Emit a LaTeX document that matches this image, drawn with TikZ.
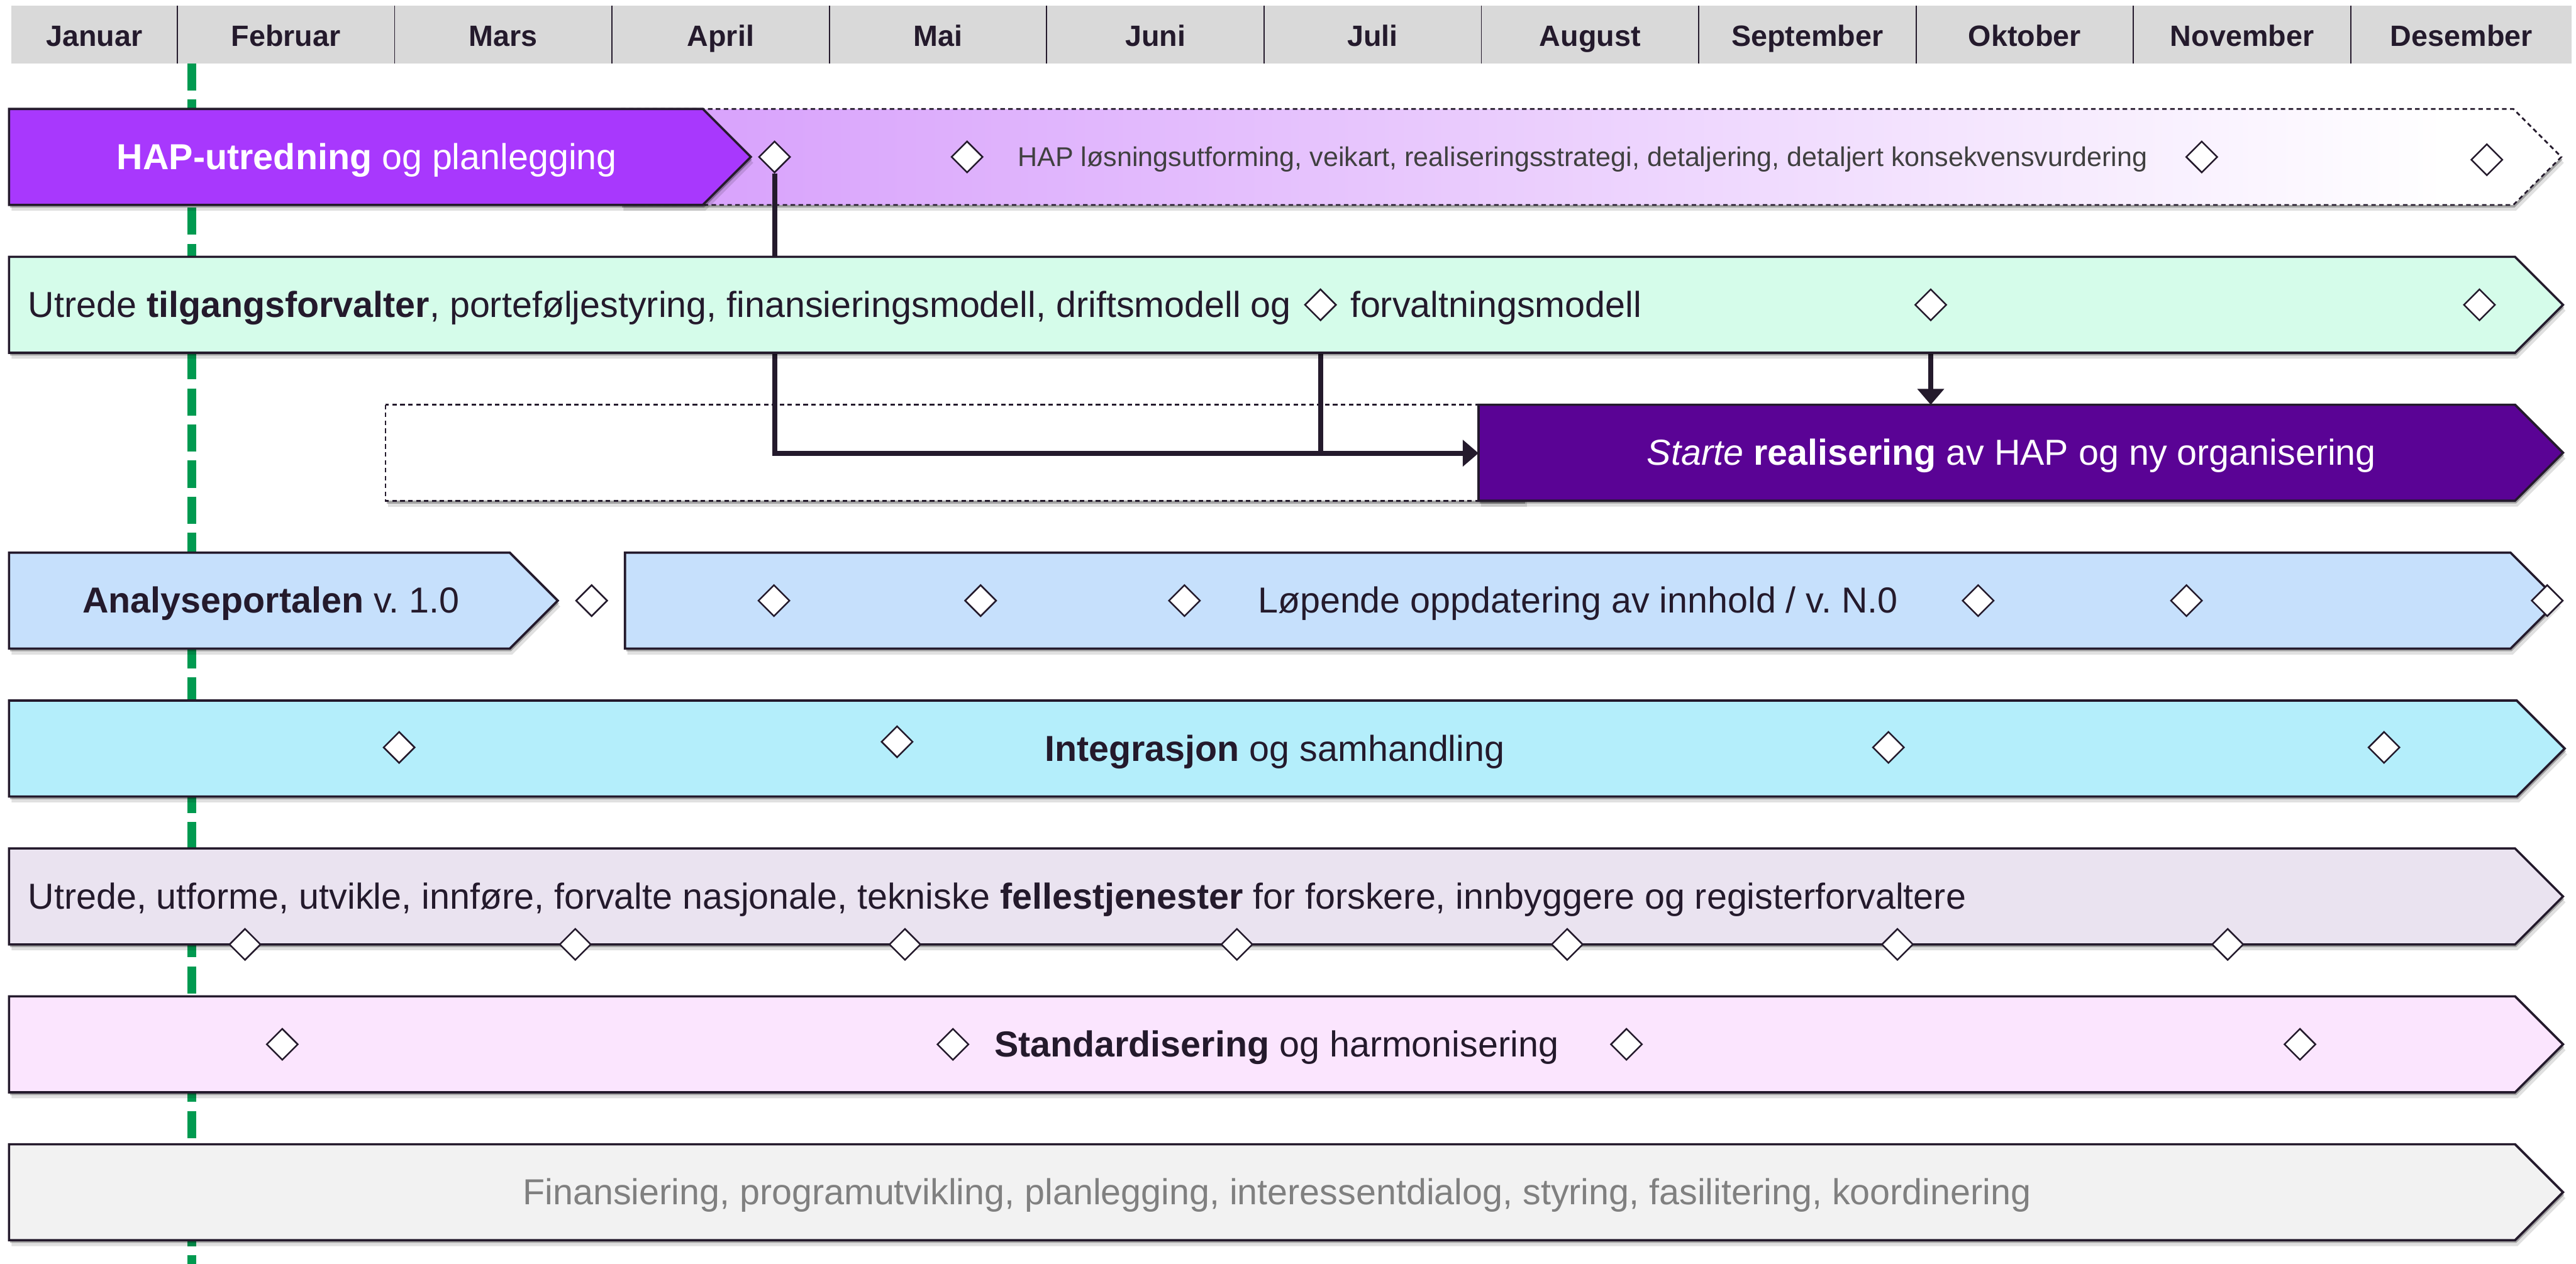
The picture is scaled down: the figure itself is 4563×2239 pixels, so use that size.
\documentclass[tikz,border=0pt]{standalone}
\usepackage{fontspec}
\setmainfont{Liberation Sans}
\usetikzlibrary{shapes.geometric,arrows.meta,shadows}
\frenchspacing

\definecolor{ink}{HTML}{241A2C}
\definecolor{hdr}{HTML}{D9D9D9}
\definecolor{hapc}{HTML}{A838FD}
\definecolor{hapl}{HTML}{D9A4FC}
\definecolor{mint}{HTML}{D5FCEA}
\definecolor{realc}{HTML}{5A0395}
\definecolor{skyc}{HTML}{C6E0FC}
\definecolor{cyanc}{HTML}{B4EEFB}
\definecolor{lavc}{HTML}{EAE3F0}
\definecolor{pinkc}{HTML}{FBE5FE}
\definecolor{greyc}{HTML}{F2F2F2}
\definecolor{mile}{HTML}{009A50}
\definecolor{softtext}{HTML}{404040}
\definecolor{dimtext}{HTML}{808080}

\pgfdeclarehorizontalshading{hapfade}{100bp}{color(0bp)=(hapl); color(28bp)=(hapl); color(72bp)=(white); color(100bp)=(white)}

\pgfdeclarelayer{bg}
\pgfdeclarelayer{lower}
\pgfdeclarelayer{links}
\pgfsetlayers{bg,lower,links,main}

% one timeline bar: [style]{left x}{body end x}{top y}, pointed right end
\newcommand\tlbar[4][]{%
  \draw[barline,#1] (#2,#4) -- (#3,#4) -- (#3+85,#4+85) -- (#3,#4+170) -- (#2,#4+170) -- cycle;}

\newcommand\rowfont{\fontsize{16pt}{19pt}\selectfont}
\newcommand\smallrowfont{\fontsize{12pt}{14pt}\selectfont}

\begin{document}
\begin{tikzpicture}[x=0.25pt,y=-0.25pt,
  boxshadow/.style={
    drop shadow={shadow xshift=0.5pt,shadow yshift=-1.2pt,opacity=0.28,fill=black},
    drop shadow={shadow xshift=1.1pt,shadow yshift=-2.6pt,opacity=0.12,fill=black}},
  barline/.style={draw=ink,line width=1pt,line join=miter,boxshadow},
  mstone/.style={diamond,aspect=1,draw=ink,fill=white,line width=0.7pt,
    minimum width=14pt,minimum height=14pt,inner sep=0pt},
  monthlbl/.style={font=\bfseries\fontsize{13pt}{15pt}\selectfont,text=ink,
    anchor=base,inner sep=0pt},
  rowtxt/.style={font=\rowfont,text=ink,inner sep=0pt,anchor=base},
  link/.style={draw=ink,line width=2.25pt},
  linkhead/.style={-{Triangle[length=7pt,width=11.5pt]}},
  fineframe/.style={draw=ink,line width=0.75pt,dash pattern=on 2pt off 1.5pt}]

\useasboundingbox (0,0) rectangle (4563,2239);

% month header
\fill[hdr] (20,10) rectangle (4555,112);
\foreach \k in {0,...,10}
  \draw[ink,line width=0.5pt] (314+385*\k,10) -- (314+385*\k,112);
\node[monthlbl] (mjan) at (167,82) {Januar};
\foreach \m [count=\i from 0] in {Februar,Mars,April,Mai,Juni,Juli,August,September,Oktober,November}
  \node[monthlbl] (m\i) at (506.5+385*\i,82) {\m};
\node[monthlbl] (mdes) at (4360,82) {Desember};

% today marker
\begin{pgfonlayer}{bg}
  \coordinate (todaytop) at (340,112);
  \coordinate (todaybot) at (340,2239);
  \draw[mile,line width=3.75pt,dash pattern=on 12pt off 4pt] (todaytop) -- (todaybot);
\end{pgfonlayer}

% row 1: HAP study and planning
\begin{pgfonlayer}{lower}
  \shadedraw[shading=hapfade,fineframe,boxshadow]
    (1100,193) -- (4452,193) -- (4537,278) -- (4452,363) -- (1100,363) -- cycle;
  \tlbar[fill=hapc]{16}{1245}{193}
  \node[rowtxt,text=white] (haptxt) at (650,300) {\textbf{HAP-utredning} og planlegging};
  \node[font=\smallrowfont,text=softtext,inner sep=0pt,anchor=base west] (hapnext) at (1802,295)
    {HAP løsningsutforming, veikart, realiseringsstrategi, detaljering, detaljert konsekvensvurdering};
  \node[mstone] (d1a) at (1372,278) {};
  \node[mstone] (d1b) at (1713,278) {};
  \node[mstone] (d1c) at (3900,278) {};
  \node[mstone] (d1d) at (4405,283) {};
  % placeholder frame in front of the realisation bar
  \draw[fineframe,fill=white,boxshadow] (683,717) rectangle (2700,887);
\end{pgfonlayer}

% row 2
\tlbar[fill=mint]{16}{4455}{455}
\node[rowtxt,anchor=base west] (r2txt) at (49,562)
  {Utrede \textbf{tilgangsforvalter}, porteføljestyring, finansieringsmodell, driftsmodell og};
\node[rowtxt,anchor=base west] (r2txtb) at (2391,562) {forvaltningsmodell};
\node[mstone] (d2a) at (2339,540) {};
\node[mstone] (d2b) at (3420,540) {};
\node[mstone] (d2c) at (4392,540) {};

% row 3: start of realisation
\tlbar[fill=realc]{2619}{4455}{717}
\node[inner sep=0pt,minimum width=459pt,minimum height=42.5pt,anchor=north west] (real) at (2619,717) {};
\node[rowtxt,text=white] (realtxt) at (3563,824)
  {\textit{Starte} \textbf{realisering} av HAP og ny organisering};

% row 4
\tlbar[fill=skyc]{16}{903}{979}
\tlbar[fill=skyc]{1107}{4447}{979}
\node[rowtxt] (r4txt) at (480,1086) {\textbf{Analyseportalen} v. 1.0};
\node[rowtxt] (r4txtb) at (2795,1086) {Løpende oppdatering av innhold / v. N.0};
\foreach \x [count=\i] in {1048,1371,1737,2098,3504,3873,4512}
  \node[mstone] (d4\i) at (\x,1064) {};

% row 5
\tlbar[fill=cyanc]{16}{4458}{1241}
\node[rowtxt] (r5txt) at (2258,1348) {\textbf{Integrasjon} og samhandling};
\node[mstone] (d51) at (707,1324) {};
\node[mstone] (d52) at (1589,1314) {};
\node[mstone] (d53) at (3345,1324) {};
\node[mstone] (d54) at (4223,1324) {};

% row 6
\tlbar[fill=lavc]{16}{4455}{1503}
\node[rowtxt,anchor=base west] (r6txt) at (49,1610)
  {Utrede, utforme, utvikle, innføre, forvalte nasjonale, tekniske \textbf{fellestjenester} for forskere, innbyggere og registerforvaltere};
\foreach \x [count=\i] in {434,1019,1603,2191,2776,3361,3946}
  \node[mstone] (d6\i) at (\x,1673) {};

% row 7
\tlbar[fill=pinkc]{16}{4455}{1765}
\node[rowtxt] (r7txt) at (2261,1872) {\textbf{Standardisering} og harmonisering};
\foreach \x [count=\i] in {500,1688,2881,4074}
  \node[mstone] (d7\i) at (\x,1850) {};

% row 8
\tlbar[fill=greyc]{16}{4455}{2027}
\node[rowtxt,text=dimtext] (r8txt) at (2262,2134)
  {Finansiering, programutvikling, planlegging, interessentdialog, styring, fasilitering, koordinering};

% dependencies into the realisation bar
\begin{pgfonlayer}{links}
  \draw[link,linkhead] (d1a.south) |- (real.west);
  \draw[link] (d2a.south) -- (d2a.south |- real.west);
  \draw[link,linkhead] (d2b.south) -- (d2b.south |- real.north);
\end{pgfonlayer}
\end{tikzpicture}
\end{document}
